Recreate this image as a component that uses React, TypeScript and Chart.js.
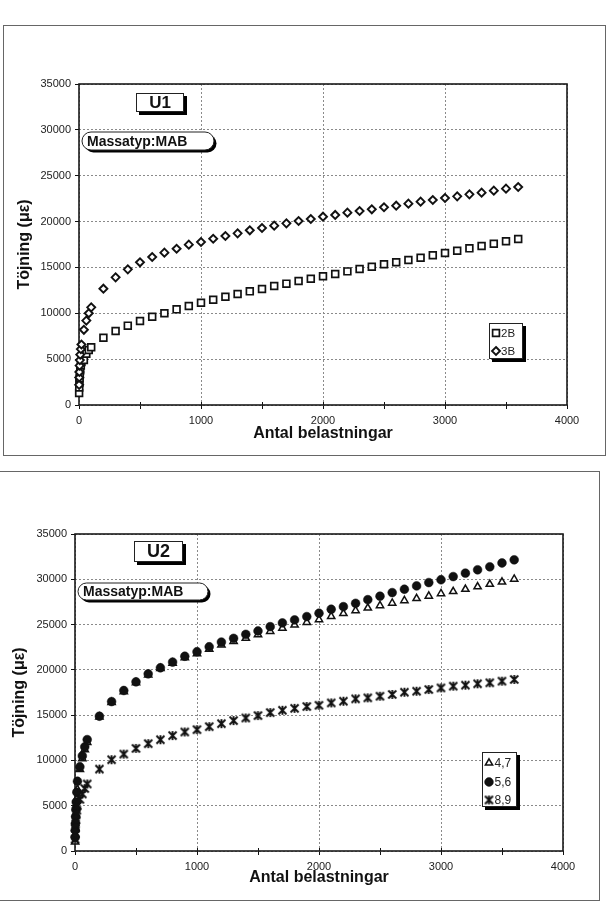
import React, { useEffect, useRef } from 'react';
import { Chart, registerables } from 'chart.js';

Chart.register(...registerables);

// ---------- DATA ----------
const loads = [1, 2, 3, 5, 7, 10, 15, 20, 40, 60, 80, 100, 200, 300, 400, 500, 600, 700, 800, 900, 1000, 1100, 1200, 1300, 1400, 1500, 1600, 1700, 1800, 1900, 2000, 2100, 2200, 2300, 2400, 2500, 2600, 2700, 2800, 2900, 3000, 3100, 3200, 3300, 3400, 3500, 3600];

const u1_2B = [1300, 1900, 2400, 2900, 3300, 3800, 4300, 4700, 4900, 5600, 6000, 6300, 7340, 8070, 8650, 9160, 9630, 10000, 10430, 10790, 11150, 11480, 11810, 12100, 12390, 12650, 12970, 13230, 13520, 13770, 14030, 14280, 14570, 14820, 15080, 15340, 15560, 15810, 16060, 16320, 16570, 16820, 17080, 17340, 17590, 17850, 18100];
const u1_3B = [2200, 3000, 3600, 4300, 4900, 5500, 6100, 6600, 8200, 9200, 10000, 10650, 12680, 13920, 14790, 15560, 16140, 16610, 17040, 17480, 17770, 18130, 18430, 18720, 19050, 19300, 19550, 19810, 20060, 20280, 20530, 20720, 20970, 21150, 21340, 21560, 21730, 21950, 22170, 22350, 22570, 22750, 22970, 23150, 23370, 23590, 23770];

const u2_47 = [1000, 1800, 2500, 3300, 4000, 4800, 5800, 6800, 9000, 10200, 11200, 12000, 14800, 16400, 17600, 18600, 19450, 20150, 20750, 21350, 21800, 22300, 22750, 23150, 23500, 23900, 24250, 24600, 24950, 25250, 25550, 25900, 26220, 26550, 26830, 27100, 27370, 27650, 27880, 28150, 28420, 28650, 28900, 29180, 29450, 29700, 30020];
const u2_56 = [1500, 2300, 3000, 3800, 4600, 5400, 6500, 7700, 9300, 10500, 11500, 12300, 14880, 16500, 17720, 18680, 19560, 20230, 20860, 21500, 22000, 22550, 23070, 23480, 23920, 24290, 24770, 25180, 25510, 25880, 26250, 26690, 26980, 27350, 27750, 28130, 28530, 28900, 29270, 29640, 29950, 30300, 30680, 31050, 31380, 31800, 32150];
const u2_89 = [1300, 1900, 2500, 3000, 3500, 4000, 4500, 5000, 5700, 6300, 6900, 7400, 9040, 10080, 10700, 11330, 11850, 12290, 12740, 13140, 13400, 13730, 14060, 14400, 14690, 14950, 15280, 15540, 15750, 15950, 16090, 16350, 16540, 16800, 16910, 17090, 17280, 17530, 17640, 17830, 18010, 18200, 18310, 18460, 18570, 18750, 18940];

const xTickLabels = ['0', '1000', '2000', '3000', '4000'];
const yTickLabels = ['0', '5000', '10000', '15000', '20000', '25000', '30000', '35000'];
const xTitle = 'Antal belastningar';
const yTitle = 'Töjning (με)';
const massLabel = 'Massatyp:MAB';

// ---------- STYLE ----------
const FONT = "'Liberation Sans', Arial, Helvetica, sans-serif";
const INK = '#111';

type MStyle = 'rect' | 'rectRot' | 'triangle' | 'circle' | 'star';
interface Series { label: string; values: number[]; style: MStyle; r: number; bw: number; fill: string; order: number; }

function makeStar(): HTMLCanvasElement {
  const c = document.createElement('canvas');
  const s = 8;
  c.width = s + 3; c.height = s + 3;
  const g = c.getContext('2d')!;
  g.strokeStyle = INK;
  g.lineWidth = 1.9;
  const o = 1.5;
  g.beginPath();
  g.moveTo(o, o); g.lineTo(o + s, o + s);
  g.moveTo(o + s, o); g.lineTo(o, o + s);
  g.moveTo(o + s / 2, o - 0.5); g.lineTo(o + s / 2, o + s + 0.5);
  g.stroke();
  return c;
}

function drawMarker(ctx: CanvasRenderingContext2D, m: Series, x: number, y: number, star: HTMLCanvasElement) {
  if (m.style === 'star') {
    ctx.drawImage(star, x - star.width / 2, y - star.height / 2);
    return;
  }
  ctx.save();
  ctx.lineWidth = m.bw; ctx.strokeStyle = INK; ctx.fillStyle = m.fill;
  const r = m.r;
  ctx.beginPath();
  if (m.style === 'rect') { const s = Math.SQRT1_2 * r; ctx.rect(x - s, y - s, 2 * s, 2 * s); }
  else if (m.style === 'rectRot') { ctx.moveTo(x, y - r); ctx.lineTo(x + r, y); ctx.lineTo(x, y + r); ctx.lineTo(x - r, y); ctx.closePath(); }
  else if (m.style === 'triangle') { const c = Math.cos(Math.PI / 6) * r; ctx.moveTo(x, y - r); ctx.lineTo(x + c, y + r / 2); ctx.lineTo(x - c, y + r / 2); ctx.closePath(); }
  else { ctx.arc(x, y, r, 0, Math.PI * 2); }
  ctx.fill(); ctx.stroke();
  ctx.restore();
}

function roundRectPath(ctx: CanvasRenderingContext2D, x: number, y: number, w: number, h: number) {
  const r = h / 2;
  ctx.beginPath();
  ctx.moveTo(x + r, y);
  ctx.lineTo(x + w - r, y);
  ctx.arc(x + w - r, y + r, r, -Math.PI / 2, Math.PI / 2);
  ctx.lineTo(x + r, y + h);
  ctx.arc(x + r, y + r, r, Math.PI / 2, Math.PI * 1.5);
  ctx.closePath();
}

const decorPlugin = {
  id: 'decor',
  beforeDatasetsDraw(chart: any) {
    const { ctx, chartArea: a } = chart;
    const xs = chart.scales.x;
    ctx.save();
    ctx.strokeStyle = INK;
    ctx.lineWidth = 1;
    for (const t of xs.ticks) {
      if (t.value > 0 && t.value < 4000) {
        const px = Math.round(xs.getPixelForValue(t.value)) + 0.5;
        ctx.beginPath(); ctx.moveTo(px, a.bottom - 3); ctx.lineTo(px, a.bottom); ctx.stroke();
      }
    }
    ctx.lineWidth = 1.6;
    ctx.strokeStyle = '#1a1a1a';
    ctx.strokeRect(a.left, a.top, a.right - a.left, a.bottom - a.top);
    ctx.restore();
  },
  afterDatasetsDraw(chart: any, _args: any, opts: any) {
    const { ctx, chartArea: a } = chart;
    const L = a.left, T = a.top;
    ctx.save();
    // title box
    const tb = opts.titleBox;
    ctx.fillStyle = '#000';
    ctx.fillRect(L + tb.x + 3, T + tb.y + 3, tb.w, tb.h);
    ctx.fillStyle = '#fff';
    ctx.fillRect(L + tb.x, T + tb.y, tb.w, tb.h);
    ctx.strokeStyle = '#222'; ctx.lineWidth = 1;
    ctx.strokeRect(L + tb.x + 0.5, T + tb.y + 0.5, tb.w - 1, tb.h - 1);
    ctx.fillStyle = INK;
    ctx.font = `bold ${tb.size}px ${FONT}`;
    ctx.textAlign = 'center'; ctx.textBaseline = 'middle';
    ctx.fillText(tb.text, L + tb.x + tb.w / 2, T + tb.y + tb.h / 2 + 1);
    // pill
    const p = opts.pill;
    ctx.fillStyle = '#000';
    roundRectPath(ctx, L + p.x + 2.5, T + p.y + 2.5, p.w, p.h); ctx.fill();
    ctx.fillStyle = '#fff';
    roundRectPath(ctx, L + p.x, T + p.y, p.w, p.h); ctx.fill();
    ctx.strokeStyle = '#222'; ctx.lineWidth = 1; ctx.stroke();
    ctx.fillStyle = INK;
    ctx.font = `bold 14px ${FONT}`;
    ctx.textAlign = 'left'; ctx.textBaseline = 'middle';
    ctx.fillText(massLabel, L + p.x + 5, T + p.y + p.h / 2 + 1);
    // legend
    const lg = opts.legend;
    ctx.fillStyle = '#000';
    ctx.fillRect(L + lg.x + 3, T + lg.y + 3, lg.w, lg.h);
    ctx.fillStyle = '#fff';
    ctx.fillRect(L + lg.x, T + lg.y, lg.w, lg.h);
    ctx.strokeStyle = '#222'; ctx.lineWidth = 1;
    ctx.strokeRect(L + lg.x + 0.5, T + lg.y + 0.5, lg.w - 1, lg.h - 1);
    const series: Series[] = opts.series;
    series.forEach((s, i) => {
      const y = T + lg.rows[i];
      drawMarker(ctx, s, L + lg.mx, y, opts.star);
      ctx.fillStyle = '#222';
      ctx.font = `${lg.size}px ${FONT}`;
      ctx.textAlign = 'left'; ctx.textBaseline = 'middle';
      ctx.fillText(s.label, L + lg.tx, y + 0.5);
    });
    ctx.restore();
  },
};

interface Spec {
  padTop: number; padRight: number; yAxisW: number; xAxisH: number; xTitlePad: number; yTitlePad: number;
  series: Series[];
  titleBox: any; pill: any; legend: any;
}

const topSpec: Spec = {
  padTop: 59, padRight: 45, yAxisW: 79, xAxisH: 50, xTitlePad: 11.4, yTitlePad: 15.4,
  series: [
    { label: '2B', values: u1_2B, style: 'rect', r: 4.8, bw: 1.7, fill: '#fff', order: 2 },
    { label: '3B', values: u1_3B, style: 'rectRot', r: 4, bw: 1.9, fill: '#fff', order: 1 },
  ],
  titleBox: { x: 57, y: 9, w: 48, h: 19, text: 'U1', size: 17 },
  pill: { x: 3, y: 48, w: 132, h: 18 },
  legend: { x: 410, y: 239, w: 34, h: 36, rows: [249, 267], mx: 417, tx: 422, size: 11.5 },
};

const botSpec: Spec = {
  padTop: 62, padRight: 49, yAxisW: 75, xAxisH: 49, xTitlePad: 12.4, yTitlePad: 10.4,
  series: [
    { label: '4,7', values: u2_47, style: 'triangle', r: 4.2, bw: 1.5, fill: '#fff', order: 3 },
    { label: '5,6', values: u2_56, style: 'circle', r: 4.4, bw: 0.5, fill: INK, order: 2 },
    { label: '8,9', values: u2_89, style: 'star', r: 4, bw: 1.5, fill: INK, order: 1 },
  ],
  titleBox: { x: 59, y: 7, w: 49, h: 21, text: 'U2', size: 18 },
  pill: { x: 3, y: 49, w: 130, h: 17 },
  legend: { x: 407, y: 218, w: 35, h: 55, rows: [229, 248, 266], mx: 414, tx: 419.5, size: 12 },
};

function buildConfig(spec: Spec, star: HTMLCanvasElement): any {
  const tickFont = { family: FONT, size: 11 };
  return {
    type: 'scatter',
    data: {
      datasets: spec.series.map((s) => ({
        label: s.label,
        data: loads.map((x, i) => ({ x, y: s.values[i] })),
        pointStyle: s.style === 'star' ? star : s.style,
        pointRadius: s.r,
        pointBorderWidth: s.bw,
        pointBorderColor: INK,
        pointBackgroundColor: s.fill,
        borderColor: INK,
        backgroundColor: s.fill,
        showLine: false,
        clip: false,
        order: s.order,
      })),
    },
    options: {
      animation: false,
      responsive: false,
      maintainAspectRatio: false,
      events: [],
      layout: { padding: { top: spec.padTop, right: spec.padRight, left: 0, bottom: 0 } },
      plugins: {
        legend: { display: false },
        tooltip: { enabled: false },
        decor: { series: spec.series, titleBox: spec.titleBox, pill: spec.pill, legend: spec.legend, star },
      },
      scales: {
        x: {
          type: 'linear', min: 0, max: 4000,
          afterFit: (sc: any) => { sc.height = spec.xAxisH; },
          ticks: {
            stepSize: 500, autoSkip: false, maxRotation: 0, minRotation: 0, padding: 5,
            color: '#222', font: tickFont,
            callback: (v: number) => (xTickLabels.includes(String(v)) ? String(v) : ''),
          },
          grid: {
            color: (c: any) => (c.tick && c.tick.value % 1000 === 0 ? '#8a8a8a' : 'rgba(0,0,0,0)'),
            lineWidth: 1, tickLength: 4, tickColor: INK, tickWidth: 1,
          },
          border: { display: false, dash: [2, 2] },
          title: {
            display: true, text: xTitle, color: INK,
            font: { family: FONT, size: 16, weight: 'bold' },
            padding: { top: 0, bottom: spec.xTitlePad },
          },
        },
        y: {
          type: 'linear', min: 0, max: 35000,
          afterFit: (sc: any) => { sc.width = spec.yAxisW; },
          ticks: {
            stepSize: 5000, padding: 4, color: '#222', font: tickFont,
            callback: (v: number) => (yTickLabels.includes(String(v)) ? String(v) : ''),
          },
          grid: { color: '#8a8a8a', lineWidth: 1, tickLength: 4, tickColor: INK, tickWidth: 1 },
          border: { display: false, dash: [2, 2] },
          title: {
            display: true, text: yTitle, color: INK,
            font: { family: FONT, size: 16, weight: 'bold' },
            padding: { top: spec.yTitlePad, bottom: 0 },
          },
        },
      },
    },
    plugins: [decorPlugin],
  };
}

export default function App() {
  const topRef = useRef<HTMLCanvasElement>(null);
  const botRef = useRef<HTMLCanvasElement>(null);
  useEffect(() => {
    const star = makeStar();
    const c1 = new Chart(topRef.current!, buildConfig(topSpec, star));
    const c2 = new Chart(botRef.current!, buildConfig(botSpec, star));
    return () => { c1.destroy(); c2.destroy(); };
  }, []);
  return (
    <div style={{ position: 'absolute', left: 0, top: 0, width: 612, height: 911, background: '#fff', overflow: 'hidden' }}>
      <div style={{ position: 'absolute', left: 3, top: 25, width: 603, height: 431, border: '1px solid #666', boxSizing: 'border-box' }} />
      <div style={{ position: 'absolute', left: -1, top: 471, width: 601, height: 430, border: '1px solid #666', boxSizing: 'border-box' }} />
      <canvas ref={topRef} width={612} height={430} style={{ position: 'absolute', left: 0, top: 25, width: 612, height: 430 }} />
      <canvas ref={botRef} width={612} height={428} style={{ position: 'absolute', left: 0, top: 472, width: 612, height: 428 }} />
    </div>
  );
}
